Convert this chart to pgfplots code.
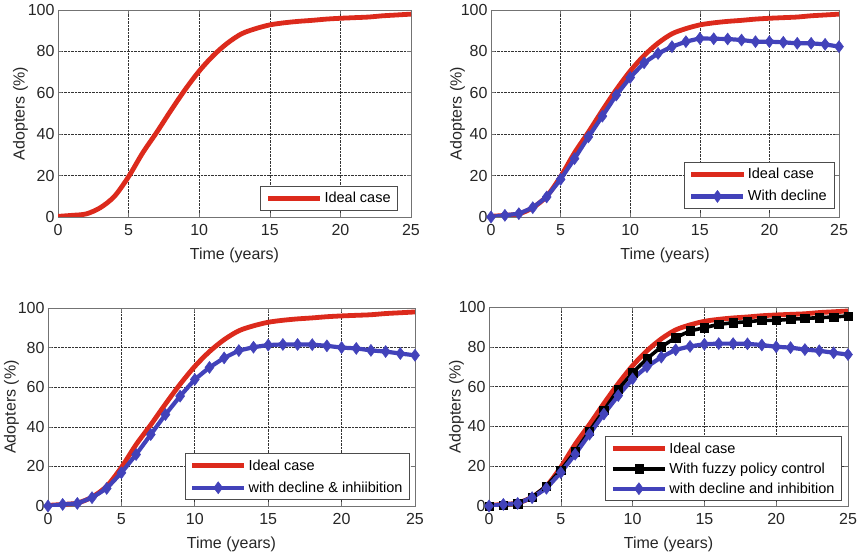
\documentclass[border=0pt]{standalone}
\usepackage{fontspec}
\setmainfont{Liberation Sans}
\usepackage{pgfplots}
\pgfplotsset{compat=1.18}

\definecolor{idealred}{RGB}{220,42,28}
\definecolor{declblue}{RGB}{66,66,186}

\pgfplotstableread{
t ideal decline inhib fuzzy
0 0.3 0.0 0.0 0.0
1 0.8 0.8 0.8 0.5
2 1.5 1.6 1.3 1.2
3 4.5 4.5 4.2 4.5
4 10.0 9.7 8.9 10.0
5 19.5 18.2 16.8 18.0
6 31.0 28.2 26.0 27.3
7 41.0 38.7 36.1 37.7
8 51.5 48.7 46.2 48.0
9 61.5 58.9 55.5 58.6
10 70.5 67.4 63.9 67.0
11 78.0 74.5 70.0 74.0
12 84.0 79.0 74.8 80.0
13 88.5 82.3 78.5 84.6
14 91.0 84.7 80.2 88.0
15 92.8 86.3 81.3 89.6
16 93.8 86.1 81.6 91.3
17 94.5 86.0 81.6 92.1
18 95.0 85.5 81.5 92.6
19 95.6 84.7 80.9 93.3
20 96.0 84.7 80.0 93.3
21 96.3 84.4 79.6 93.8
22 96.6 83.9 78.6 94.3
23 97.2 83.9 78.0 94.6
24 97.6 83.4 77.0 95.0
25 98.0 82.3 76.1 95.5
}\adopt

\pgfplotsset{
  panel/.style={
    scale only axis,
    xmin=0, xmax=25, ymin=0, ymax=100,
    xtick={0,5,...,25}, ytick={0,20,...,100},
    grid=major,
    major grid style={black!80, densely dotted, line width=0.6pt},
    axis line style={black!55, line width=0.8pt},
    tick style={black!55, line width=0.6pt},
    tick align=inside, major tick length=4pt,
    tick label style={font=\fontsize{16}{18}\selectfont, black!85},
    xticklabel style={yshift=-4pt},
    /pgf/number format/assume math mode=true,
    xlabel={Time (years)}, ylabel={Adopters (\%)},
    label style={font=\fontsize{16}{18}\selectfont, black!85},
    xlabel style={yshift=-5pt},
    legend cell align=left,
    legend style={font=\fontsize{14.5}{17}\selectfont, draw=black!70, line width=0.6pt,
      inner xsep=5pt, inner ysep=4pt, row sep=6pt},
    legend image code/.code={\draw[mark repeat=2,mark phase=2,##1]
      plot coordinates {(0pt,0pt) (26pt,0pt) (52pt,0pt)};},
  },
  ideal/.style={idealred, line width=4.8pt, smooth, no marks},
  decl/.style={declblue, line width=4.2pt, mark=diamond*, mark size=6pt,
    mark options={solid, fill=declblue, line width=0.5pt}},
  fuzz/.style={black, line width=3.6pt, mark=square*, mark size=4.2pt,
    mark options={solid, fill=black, line width=0.5pt}},
}

\begin{document}
\begin{tikzpicture}
\useasboundingbox (0,0) rectangle (860pt,-556pt);

\begin{axis}[panel, at={(58pt,-10pt)}, anchor=north west, width=353pt, height=207pt,
  ylabel style={yshift=-7pt},
  legend style={at={(0.963,0.03)}, anchor=south east}]
  \addplot[ideal] table[x=t, y=ideal] {\adopt};
  \addlegendentry{Ideal case}
\end{axis}

\begin{axis}[panel, at={(491pt,-10pt)}, anchor=north west, width=348pt, height=207pt,
  ylabel style={yshift=-11pt},
  legend style={at={(0.986,0.04)}, anchor=south east}]
  \addplot[ideal] table[x=t, y=ideal] {\adopt};
  \addlegendentry{Ideal case}
  \addplot[decl] table[x=t, y=decline] {\adopt};
  \addlegendentry{With decline}
\end{axis}

\begin{axis}[panel, at={(48pt,-308pt)}, anchor=north west, width=367pt, height=198pt,
  ylabel style={yshift=-8pt},
  legend style={at={(0.986,0.03)}, anchor=south east}]
  \addplot[ideal] table[x=t, y=ideal] {\adopt};
  \addlegendentry{Ideal case}
  \addplot[decl] table[x=t, y=inhib] {\adopt};
  \addlegendentry{with decline \& inhiibition}
\end{axis}

\begin{axis}[panel, at={(489pt,-307pt)}, anchor=north west, width=359pt, height=199pt,
  ylabel style={yshift=-12pt},
  legend style={at={(0.983,0.025)}, anchor=south east, row sep=4pt}]
  \addplot[ideal] table[x=t, y=ideal] {\adopt};
  \addlegendentry{Ideal case}
  \addplot[fuzz] table[x=t, y=fuzzy] {\adopt};
  \addlegendentry{With fuzzy policy control}
  \addplot[decl] table[x=t, y=inhib] {\adopt};
  \addlegendentry{with decline and inhibition}
\end{axis}
\end{tikzpicture}
\end{document}
